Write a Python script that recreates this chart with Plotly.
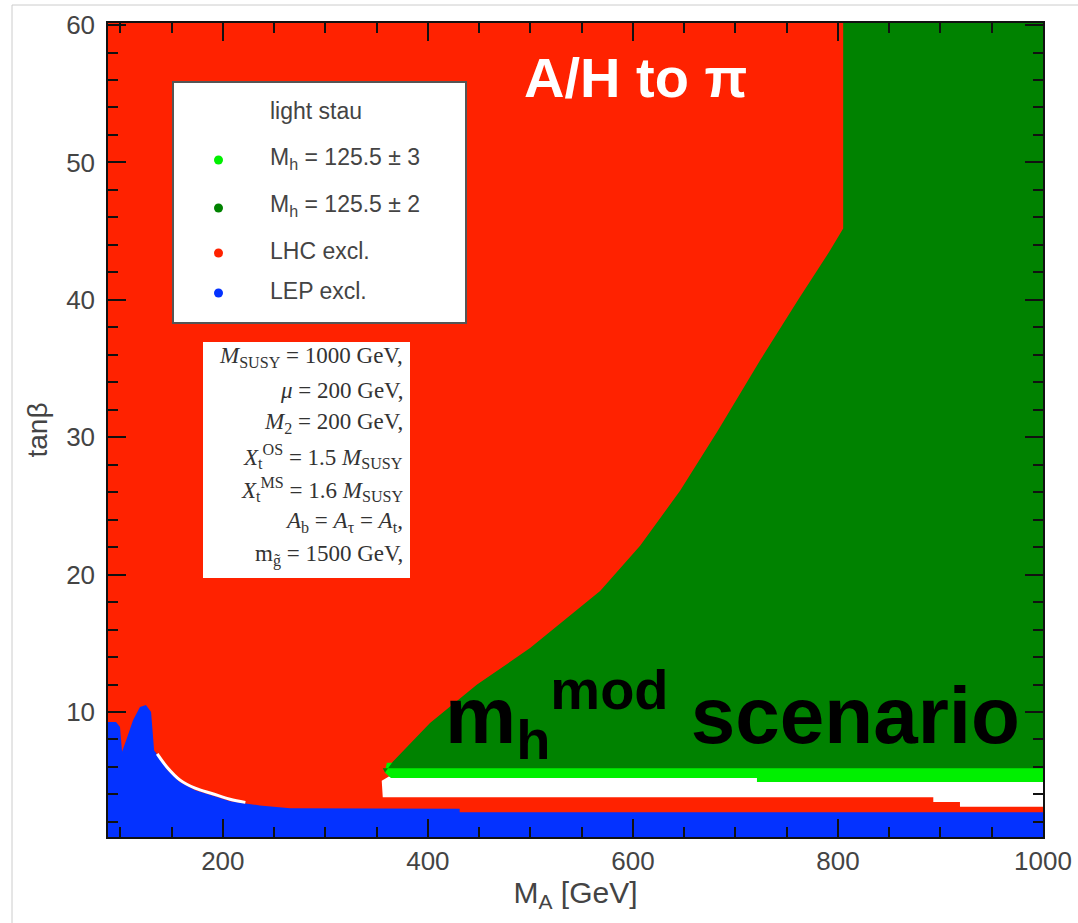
import plotly.graph_objects as go

# Axis ranges
MA_RANGE = [88, 1000]
TB_RANGE = [0.9, 60.15]

# LHC exclusion fills the whole plane; other regions are drawn on top of it
lhc_ma = [88, 1000, 1000, 88]
lhc_tb = [0.9, 0.9, 60.15, 60.15]

# Left edge of the M_h = 125.5 +- 2 region (top to bottom)
edge_ma = [805.1, 792.4, 761.2, 724.1, 683.1, 646.0, 607.0, 568.0, 533.9,
           499.7, 448.0, 402.1, 366.0, 358.2]
edge_tb = [45.2, 43.6, 40.0, 35.6, 30.5, 26.1, 22.1, 18.8, 16.7,
           14.65, 12.0, 9.2, 6.4, 5.6]

# Dark green region (M_h = 125.5 +- 2)
mh2_ma = [805.1, 1000, 1000, 356] + edge_ma[::-1]
mh2_tb = [60.15, 60.15, 5.9, 5.9] + edge_tb[::-1]

# Light green band (M_h = 125.5 +- 3)
mh3_ma = [360, 1000, 1000, 721, 721, 364, 358, 360]
mh3_tb = [6.3, 6.3, 4.9, 4.9, 5.2, 5.2, 5.6, 6.3]

# Allowed (white) strip between the Higgs-mass band and the LHC exclusion
gap_ma = [356, 893, 893, 919, 919, 1000, 1000, 362, 355]
gap_tb = [3.8, 3.8, 3.45, 3.45, 3.1, 3.1, 5.3, 5.3, 5.0]

# LEP exclusion
lep_ma = [88, 95.8, 99.7, 101.7, 106.5, 112.4, 119.2, 125, 130, 132, 133, 138.7,
          145.6, 158, 173, 190.4, 207, 236, 265.6, 431, 431, 1000, 1000, 88]
lep_tb = [9.27, 9.27, 8.9, 7.1, 8.1, 9.4, 10.36, 10.5, 10.0, 8.3, 7.2, 6.65,
          5.8, 4.9, 4.3, 3.9, 3.5, 3.2, 3.0, 2.95, 2.7, 2.7, 0.9, 0.9]

# Thin unexcluded sliver along the LEP boundary
sliver_ma = [136, 145.6, 158, 173, 190, 207, 222]
sliver_tb = [6.95, 5.98, 5.06, 4.45, 4.05, 3.65, 3.42]

RED = "#ff2200"
GREEN = "#008200"
LIGHT_GREEN = "#00f000"
BLUE = "#0432ff"

legend_labels = ["M<sub>h</sub> = 125.5 ± 3", "M<sub>h</sub> = 125.5 ± 2",
                 "LHC excl.", "LEP excl."]
legend_colors = [LIGHT_GREEN, GREEN, RED, BLUE]

param_lines = [
    "<i>M</i><sub>SUSY</sub> = 1000 GeV,",
    "<i>μ</i> = 200 GeV,",
    "<i>M</i><sub>2</sub> = 200 GeV,",
    "<i>X</i><sub>t</sub><sup>OS</sup> = 1.5 <i>M</i><sub>SUSY</sub>",
    "<i>X</i><sub>t</sub><sup>MS</sup> = 1.6 <i>M</i><sub>SUSY</sub>",
    "<i>A</i><sub>b</sub> = <i>A</i><sub>τ</sub> = <i>A</i><sub>t</sub>,",
    "m<sub>g̃</sub> = 1500 GeV,",
]

W, H = 1078, 923
ML, MR, MT, MB = 108, 35, 23, 86
PW, PH = W - ML - MR, H - MT - MB


def px(x):
    return (x - ML) / PW


def py(y):
    return 1 - (y - MT) / PH


fig = go.Figure()


def region(xs, ys, color):
    fig.add_trace(go.Scatter(x=xs, y=ys, mode="lines", fill="toself",
                             fillcolor=color, line=dict(width=0, color=color),
                             hoverinfo="skip", showlegend=False))


region(lhc_ma, lhc_tb, RED)
region(gap_ma, gap_tb, "white")
region(mh3_ma, mh3_tb, LIGHT_GREEN)
region(mh2_ma, mh2_tb, GREEN)
region(lep_ma, lep_tb, BLUE)
fig.add_trace(go.Scatter(x=sliver_ma, y=sliver_tb, mode="lines",
                         line=dict(color="white", width=3, shape="spline"),
                         hoverinfo="skip", showlegend=False))

shapes = []
annotations = []

# Legend box
shapes.append(dict(type="rect", xref="paper", yref="paper",
                   x0=px(173), x1=px(466), y0=py(323), y1=py(82),
                   fillcolor="white", line=dict(color="#555555", width=2)))
annotations.append(dict(xref="paper", yref="paper", x=px(268), y=py(111),
                        text="light stau", showarrow=False, xanchor="left",
                        yanchor="middle", font=dict(size=23, color="#444444")))
for i, (lab, col) in enumerate(zip(legend_labels, legend_colors)):
    yy = [160, 208, 253, 293][i]
    shapes.append(dict(type="circle", xref="paper", yref="paper",
                       x0=px(214), x1=px(223), y0=py(yy + 4.5), y1=py(yy - 4.5),
                       fillcolor=col, line=dict(width=0)))
    annotations.append(dict(xref="paper", yref="paper", x=px(268), y=py(yy - 2),
                            text=lab, showarrow=False, xanchor="left",
                            yanchor="middle", font=dict(size=23, color="#444444")))

# Parameter box
shapes.append(dict(type="rect", xref="paper", yref="paper",
                   x0=px(203), x1=px(410), y0=py(578), y1=py(342),
                   fillcolor="white", line=dict(width=0)))
for i, line in enumerate(param_lines):
    annotations.append(dict(xref="paper", yref="paper", x=px(405), y=py(357 + 33 * i),
                            text=line, showarrow=False, xanchor="right",
                            yanchor="middle",
                            font=dict(size=23, color="#333333",
                                      family="Liberation Serif")))

# Titles inside the plot
annotations.append(dict(xref="paper", yref="paper", x=px(635), y=py(77),
                        text="<b>A/H to π</b>", showarrow=False, xanchor="center",
                        yanchor="middle",
                        font=dict(size=56, color="white", family="Liberation Sans")))
annotations.append(dict(xref="paper", yref="paper", x=px(732), y=py(714),
                        text="<b>m<sub>h</sub><sup>mod</sup> scenario</b>",
                        showarrow=False, xanchor="center", yanchor="middle",
                        font=dict(size=80, color="black", family="Liberation Sans")))

# Thin outer frame
shapes.append(dict(type="line", xref="paper", yref="paper",
                   x0=px(12), x1=px(12), y0=py(923), y1=py(5),
                   line=dict(color="#cccccc", width=1)))
shapes.append(dict(type="line", xref="paper", yref="paper",
                   x0=px(12), x1=px(1078), y0=py(5), y1=py(5),
                   line=dict(color="#cccccc", width=1)))

axis_common = dict(showgrid=False, zeroline=False, showline=True, automargin=False,
                   linecolor="#111111", linewidth=1.5, mirror="ticks",
                   ticks="inside", ticklen=18, tickwidth=1.5, tickcolor="#111111",
                   tickfont=dict(size=26, color="#444444", family="Liberation Sans"))

fig.update_xaxes(range=MA_RANGE, tickvals=[200, 400, 600, 800, 1000],
                 minor=dict(ticks="inside", dtick=50, tick0=0, ticklen=10,
                            tickwidth=1.5, tickcolor="#111111"),
                 title=dict(text="M<sub>A</sub> [GeV]", standoff=0,
                            font=dict(size=30, color="#444444", family="Liberation Sans")),
                 ticklabelstandoff=0, **axis_common)
fig.update_yaxes(range=TB_RANGE, tickvals=[10, 20, 30, 40, 50, 60],
                 minor=dict(ticks="inside", dtick=2, tick0=0, ticklen=10,
                            tickwidth=1.5, tickcolor="#111111"),
                 title=dict(text="tanβ", standoff=10,
                            font=dict(size=28, color="#444444", family="Liberation Sans")),
                 ticklabelstandoff=6, **axis_common)

fig.update_layout(width=W, height=H, margin=dict(l=ML, r=MR, t=MT, b=MB),
                  paper_bgcolor="white", plot_bgcolor="white",
                  shapes=shapes, annotations=annotations,
                  font=dict(family="Liberation Sans"), showlegend=False)

fig.write_html("out.html")
